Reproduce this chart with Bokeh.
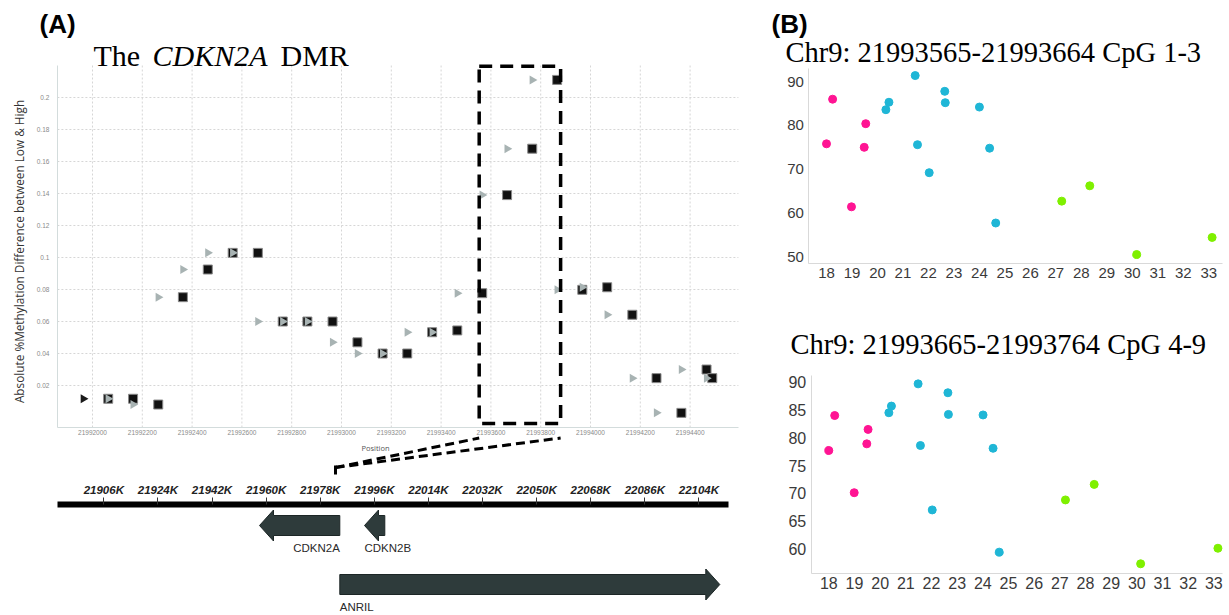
import numpy as np
from bokeh.plotting import figure
from bokeh.models import (Range1d, FixedTicker, Label, BoxAnnotation,
                          ColumnDataSource, BasicTickFormatter, LinearAxis)
from bokeh.layouts import row, column
from bokeh.core.properties import value
from bokeh.embed import file_html
from bokeh.resources import INLINE

# ---------------- Panel A data ----------------
tri_pos = [21991963, 21992063, 21992163, 21992264, 21992363, 21992463, 21992563,
           21992664, 21992764, 21992863, 21992964, 21993064, 21993165, 21993264,
           21993364, 21993465, 21993565, 21993665, 21993766, 21993866, 21993967,
           21994067, 21994168, 21994265, 21994365, 21994466]
tri_val = [0.0117, 0.0117, 0.0081, 0.0752, 0.0925, 0.1029, 0.1029, 0.0600, 0.0600,
           0.0600, 0.0470, 0.0400, 0.0400, 0.0533, 0.0533, 0.0777, 0.1390, 0.1680,
           0.2110, 0.0798, 0.0814, 0.0642, 0.0246, 0.0029, 0.0300, 0.0246]
sq_pos = [21992063, 21992163, 21992264, 21992363, 21992463, 21992563, 21992664,
          21992764, 21992863, 21992964, 21993064, 21993165, 21993264, 21993364,
          21993465, 21993565, 21993665, 21993766, 21993866, 21993967, 21994067,
          21994168, 21994265, 21994365, 21994466, 21994489]
sq_val = [0.0117, 0.0117, 0.0081, 0.0752, 0.0925, 0.1029, 0.1029, 0.0600, 0.0600,
          0.0600, 0.0470, 0.0400, 0.0400, 0.0533, 0.0544, 0.0777, 0.1390, 0.1680,
          0.2110, 0.0798, 0.0814, 0.0642, 0.0246, 0.0029, 0.0300, 0.0246]
a_xticks = [21992000, 21992200, 21992400, 21992600, 21992800, 21993000, 21993200,
            21993400, 21993600, 21993800, 21994000, 21994200, 21994400]
a_yticks = [0.02, 0.04, 0.06, 0.08, 0.1, 0.12, 0.14, 0.16, 0.18, 0.2]
a_ylabels = ["0.02", "0.04", "0.06", "0.08", "0.1", "0.12", "0.14", "0.16", "0.18", "0.2"]
a_xlim = (21991859, 21994594)
a_ylim = (-0.00625, 0.22)
dmr_start, dmr_end = 21993553, 21993880
dmr_top, dmr_bottom = 0.2195, -0.0037

# genome track
genome_ticks = [21906000, 21924000, 21942000, 21960000, 21978000, 21996000,
                22014000, 22032000, 22050000, 22068000, 22086000, 22104000]
genome_labels = ["21906K", "21924K", "21942K", "21960K", "21978K", "21996K",
                 "22014K", "22032K", "22050K", "22068K", "22086K", "22104K"]
genome_lim = (21890595, 22113850)
genes = ["CDKN2A", "CDKN2B", "ANRIL"]
gene_start = [21957804, 21992740, 21984522]
gene_end = [21984522, 21999494, 22110956]
gene_strand = ["-", "-", "+"]
gene_row = [1, 1, 0]

# ---------------- Panel B data ----------------
b1_pink_x = [18.00, 18.24, 18.98, 19.48, 19.54]
b1_pink_y = [75.8, 86.0, 61.4, 75.0, 80.4]
b1_cyan_x = [20.33, 20.45, 21.48, 21.57, 22.03, 22.64, 22.66, 24.00, 24.40, 24.64]
b1_cyan_y = [83.6, 85.3, 91.4, 75.6, 69.2, 87.8, 85.2, 84.2, 74.8, 57.7]
b1_green_x = [27.23, 28.33, 30.17, 33.13]
b1_green_y = [62.7, 66.2, 50.5, 54.4]

b2_pink_x = [18.00, 18.23, 18.99, 19.48, 19.53]
b2_pink_y = [77.7, 84.0, 70.1, 78.9, 81.5]
b2_cyan_x = [20.34, 20.44, 21.48, 21.57, 22.03, 22.64, 22.66, 24.01, 24.40, 24.64]
b2_cyan_y = [84.5, 85.7, 89.7, 78.6, 67.0, 88.1, 84.2, 84.1, 78.1, 59.4]
b2_green_x = [27.22, 28.34, 30.15, 33.16]
b2_green_y = [68.8, 71.6, 57.3, 60.1]

b_xticks = list(range(18, 34))
b1_yticks = [50, 60, 70, 80, 90]
b2_yticks = [60, 65, 70, 75, 80, 85, 90]
b1_xlim, b1_ylim = (17.306, 33.53), (48.37, 92.96)
b2_xlim, b2_ylim = (17.314, 33.33), (55.61, 91.21)
b1_title = "Chr9: 21993565-21993664 CpG 1-3"
b2_title = "Chr9: 21993665-21993764 CpG 4-9"

PINK, CYAN, GREEN = "#ff1493", "#1fb6d6", "#7ff000"


class Canvas:
    """Linear map between page pixels (reference coordinates) and data."""
    def __init__(self, box, xa, xpa, xb, xpb, ya, ypa, yb, ypb):
        self.box = box  # (left, top, right, bottom) in page px
        self.xa, self.xpa, self.kx = xa, xpa, (xb - xa) / (xpb - xpa)
        self.ya, self.ypa, self.ky = ya, ypa, (yb - ya) / (ypb - ypa)

    def x(self, px):
        return self.xa + (px - self.xpa) * self.kx

    def y(self, py):
        return self.ya + (py - self.ypa) * self.ky

    def fig(self):
        l, t, r, b = self.box
        f = figure(width=r - l, height=b - t, output_backend="svg", toolbar_location=None,
                   title=None, x_range=Range1d(self.x(l), self.x(r)),
                   y_range=Range1d(self.y(b), self.y(t)),
                   x_axis_location=None, y_axis_location=None,
                   min_border=0, min_border_left=0, min_border_right=0,
                   min_border_top=0, min_border_bottom=0)
        f.outline_line_color = None
        f.background_fill_color = "white"
        f.border_fill_color = "white"
        f.grid.visible = False
        return f


def add_label(fig, cv, text, rx, ry, font, size, style="normal", color="black",
              align="left", angle=0.0):
    # (rx, ry): left/centre x and vertical middle of the text, in page pixels
    fig.add_layout(Label(x=cv.x(rx), y=cv.y(ry), text=text, text_font=font,
                         text_font_size=size, text_font_style=style, text_color=color,
                         text_align=align, text_baseline="middle", angle=angle))


def style_axis(ax, size, color, standoff):
    ax.major_tick_out = 0
    ax.major_tick_in = 0
    ax.minor_tick_out = 0
    ax.minor_tick_in = 0
    ax.major_label_text_font = "Liberation Sans"
    ax.major_label_text_font_size = size
    ax.major_label_text_color = color
    ax.major_label_standoff = standoff


# ================= Panel A scatter =================
cA = Canvas((0, 0, 770, 478), 21992000, 92, 21994400, 689.6, 0.0, 417, 0.2, 97)
fA = cA.fig()

# grid (dotted)
fA.segment(x0=a_xticks, y0=[a_ylim[0]] * len(a_xticks), x1=a_xticks,
           y1=[a_ylim[1]] * len(a_xticks), line_color="#d6d6d6", line_dash="2 2")
fA.segment(x0=[a_xlim[0]] * len(a_yticks), y0=a_yticks, x1=[a_xlim[1]] * len(a_yticks),
           y1=a_yticks, line_color="#d6d6d6", line_dash="2 2")

xax = LinearAxis(ticker=FixedTicker(ticks=a_xticks), fixed_location=a_ylim[0],
                 bounds=a_xlim, formatter=BasicTickFormatter(use_scientific=False))
yax = LinearAxis(ticker=FixedTicker(ticks=a_yticks), fixed_location=a_xlim[0],
                 bounds=a_ylim,
                 major_label_overrides={t: l for t, l in zip(a_yticks, a_ylabels)})
for ax in (xax, yax):
    style_axis(ax, "6.5px", "#8a8a8a", 2)
    ax.axis_line_color = "#d3dcdc"
yax.major_label_standoff = 8
fA.add_layout(xax, "below")
fA.add_layout(yax, "left")

fA.scatter(sq_pos, sq_val, marker="square", size=9, fill_color="#111111",
           line_color="#8a8a8a", line_width=1)
tri_colors = ["#1a1a1a"] + ["#a8b3b3"] * (len(tri_pos) - 1)
fA.scatter(x="x", y="y", source=ColumnDataSource(dict(x=tri_pos, y=tri_val, c=tri_colors)),
           marker="triangle", angle=-np.pi / 2, size=9, fill_color="c", line_color=None)

fA.add_layout(BoxAnnotation(left=dmr_start, right=dmr_end, top=dmr_top, bottom=dmr_bottom,
                            fill_color=None, fill_alpha=0, line_color="black",
                            line_alpha=1.0, line_width=3.5, line_dash="13 8"))

# connectors from the DMR box down to the genome track
fA.segment(x0=[cA.x(335), cA.x(335)], y0=[cA.y(467), cA.y(467)],
           x1=[dmr_start, dmr_end], y1=[cA.y(437.5), cA.y(437.5)],
           line_color="black", line_width=3, line_dash="9 5")
fA.segment(x0=[cA.x(335)], y0=[cA.y(465)], x1=[cA.x(335)], y1=[cA.y(474)],
           line_color="black", line_width=3)

add_label(fA, cA, "(A)", 39, 23, "Liberation Sans", "26px", "bold")
add_label(fA, cA, "The", 93, 55, "Liberation Serif", "30px")
add_label(fA, cA, "CDKN2A", 152, 55, "Liberation Serif", "30px", "italic")
add_label(fA, cA, "DMR", 280, 55, "Liberation Serif", "30px")
add_label(fA, cA, "Position", 375, 447, "Open Sans", "7.5px", color="#555555",
          align="center")
add_label(fA, cA, "Absolute %Methylation Difference between Low & High", 18, 251,
          "Open Sans", "11.8px", color="#333333", align="center", angle=np.pi / 2)

# ================= Genome track =================
cG = Canvas((0, 478, 770, 615), 21906000, 103.3, 22104000, 698.4, 0, 615, 100, 515)
fG = cG.fig()
gax = LinearAxis(ticker=FixedTicker(ticks=genome_ticks), fixed_location=cG.y(504),
                 bounds=genome_lim,
                 major_label_overrides={t: l for t, l in zip(genome_ticks, genome_labels)})
style_axis(gax, "11.5px", "#222222", 2)
gax.axis_line_width = 6
gax.axis_line_color = "black"
gax.major_tick_out = 7
gax.major_tick_line_color = "#333333"
gax.major_label_text_font_style = "bold italic"
fG.add_layout(gax, "above")

head_len = 14 * cG.kx
row_py = {1: 525, 0: 584}
body_h, head_h = 20, 31
xs, ys = [], []
for s, e, st, r in zip(gene_start, gene_end, gene_strand, gene_row):
    yc = cG.y(row_py[r])
    if st == "+":
        hb = e - head_len
        xs.append([s, hb, hb, e, hb, hb, s])
    else:
        hb = s + head_len
        xs.append([e, hb, hb, s, hb, hb, e])
    ys.append([yc - body_h / 2, yc - body_h / 2, yc - head_h / 2, yc,
               yc + head_h / 2, yc + body_h / 2, yc + body_h / 2])
fG.patches(xs, ys, fill_color="#2e3b3b", line_color="#1c2626", line_width=1)
lab_x = [gene_end[0], gene_start[1], gene_start[2]]
lab_align = ["right", "left", "left"]
lab_y = [cG.y(row_py[r] + 22) for r in gene_row]
fG.text(x=lab_x, y=lab_y, text=genes, text_align=lab_align, text_baseline="middle",
        text_font=value("Liberation Sans"), text_font_size="11.5px", text_color="#2a2a2a")


# ================= Panel B =================
def panel_b(cv, xlim, ylim, yticks, lab_size, px, py, cx, cy, gx, gy,
            title, title_x, title_mid, letter):
    f = cv.fig()
    xa = LinearAxis(ticker=FixedTicker(ticks=b_xticks), fixed_location=ylim[0], bounds=xlim)
    ya = LinearAxis(ticker=FixedTicker(ticks=yticks), fixed_location=xlim[0], bounds=ylim)
    for ax in (xa, ya):
        style_axis(ax, lab_size, "#3a3a3a", 5)
        ax.axis_line_color = "#d9d9d9"
    xa.major_label_standoff = 4
    f.add_layout(xa, "below")
    f.add_layout(ya, "left")
    f.scatter(px, py, size=8, color=PINK)
    f.scatter(cx, cy, size=8, color=CYAN)
    f.scatter(gx, gy, size=8, color=GREEN)
    add_label(f, cv, title, title_x, title_mid, "Liberation Serif", "28.5px")
    if letter:
        add_label(f, cv, letter, 771, 23, "Liberation Sans", "26px", "bold")
    return f


cB1 = Canvas((770, 0, 1229, 300), 18, 826, 33, 1208.3, 50, 256.2, 90, 81.2)
cB2 = Canvas((770, 300, 1229, 615), 18, 828.3, 33, 1213.3, 60, 548.3, 90, 381.7)
fB1 = panel_b(cB1, b1_xlim, b1_ylim, b1_yticks, "15px", b1_pink_x, b1_pink_y,
              b1_cyan_x, b1_cyan_y, b1_green_x, b1_green_y, b1_title, 785, 52, "(B)")
fB2 = panel_b(cB2, b2_xlim, b2_ylim, b2_yticks, "16px", b2_pink_x, b2_pink_y,
              b2_cyan_x, b2_cyan_y, b2_green_x, b2_green_y, b2_title, 790, 344, None)

layout = row(column(fA, fG, spacing=0), column(fB1, fB2, spacing=0), spacing=0)
open("out.html", "w").write(file_html(layout, INLINE))
